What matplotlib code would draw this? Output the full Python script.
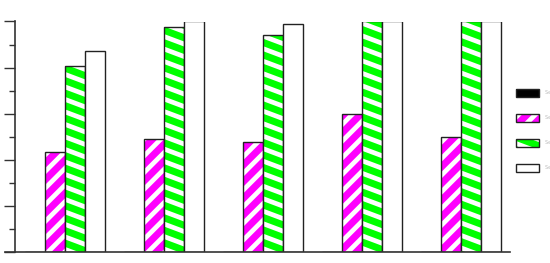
import numpy as np
import matplotlib
matplotlib.use('Agg')
import matplotlib.pyplot as plt
import matplotlib.hatch as mhatch
from matplotlib.path import Path
from matplotlib.legend_handler import HandlerTuple

groups = ['G1', 'G2', 'G3', 'G4', 'G5']
series = ['Series 1', 'Series 2', 'Series 3', 'Series 4']
s1 = [0, 0, 0, 0, 0]
s2 = [43.6, 49.2, 47.9, 59.9, 50.0]
s3 = [80.7, 97.8, 94.1, 100, 100]
s4 = [87.2, 100, 98.9, 100, 100]


# striped hatches like the original: '/' steep stripes, '\' shallow ones
class StripeHatch(mhatch.HatchPatternBase):
    char = '/'
    n = 6        # stripes per hatch tile (vertically)
    rise = 6     # rise over one tile width, in units of 1/n

    def __init__(self, hatch, density):
        self.k = np.arange(-abs(self.rise) - 2, self.n + abs(self.rise) + 2) if self.char in hatch else np.array([])
        self.num_lines = len(self.k)
        self.num_vertices = self.num_lines * 2

    def set_vertices_and_codes(self, vertices, codes):
        c = self.k / self.n
        slope = self.rise / self.n
        vertices[0::2, 0] = -0.2
        vertices[0::2, 1] = c - 0.2 * slope
        vertices[1::2, 0] = 1.2
        vertices[1::2, 1] = c + 1.2 * slope
        codes[0::2] = Path.MOVETO
        codes[1::2] = Path.LINETO


class RisingHatch(StripeHatch):
    char = '/'
    n = 6
    rise = 6


class FallingHatch(StripeHatch):
    char = '\\'
    n = 8
    rise = -3


mhatch._hatch_types[:] = [t for t in mhatch._hatch_types
                          if t not in (mhatch.NorthEastHatch, mhatch.SouthEastHatch)]
mhatch._hatch_types += [RisingHatch, FallingHatch]

plt.rcParams['hatch.linewidth'] = 3.4

fig = plt.figure(figsize=(5.5, 2.63), dpi=100)
ax = fig.add_axes([5 / 550, 11 / 263, 505 / 550, 230.5 / 263])

x = np.arange(len(groups))
w = 0.2
data = [s1, s2, s3, s4]
faces = ['black', '#ff00ff', '#00ff00', 'white']
hatches = [None, '/', '\\', None]
handles = []
for i, (vals, fc, h) in enumerate(zip(data, faces, hatches)):
    pos = x + (i - 1.5) * w
    filled = ax.bar(pos, vals, w, color=fc, hatch=h, edgecolor='white' if h else fc, linewidth=0)
    outline = ax.bar(pos, vals, w, fill=False, edgecolor='#222222', linewidth=1.0)
    handles.append((filled, outline))

ax.set_xlim(-0.606, 4.495)
ax.set_ylim(0, 100)
ax.spines['top'].set_visible(False)
ax.spines['right'].set_visible(False)
ax.spines['left'].set_position(('data', -0.505))
for sp in ['left', 'bottom']:
    ax.spines[sp].set_color('#333333')
    ax.spines[sp].set_linewidth(1.2)
ax.set_xticks([])
ax.set_yticks(np.arange(0, 101, 20))
ax.set_yticks(np.arange(10, 100, 20), minor=True)
ax.tick_params(axis='y', which='major', length=8, width=1.0, color='#333333', labelleft=False)
ax.tick_params(axis='y', which='minor', length=4, width=1.0, color='#333333')

# legend labels sit at the right edge, tiny and faint as in the original
fig.legend(handles, series, handler_map={tuple: HandlerTuple(ndivide=1)},
           loc='upper left', bbox_to_anchor=(516 / 550, 1 - 89 / 263),
           frameon=False, fontsize=3.5, labelcolor='#bbbbbb',
           handlelength=4.73, handleheight=2.0, handletextpad=1.2,
           labelspacing=3.6, borderpad=0, borderaxespad=0)

fig.savefig('out.png', dpi=100)
